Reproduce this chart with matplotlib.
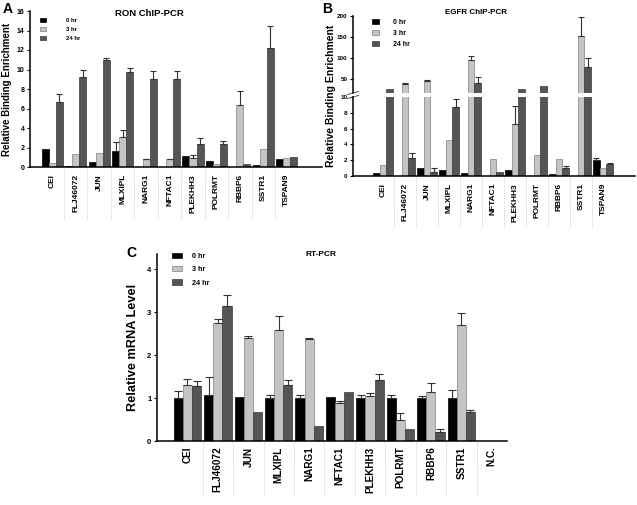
import numpy as np
import matplotlib
matplotlib.use("Agg")
import matplotlib.pyplot as plt
import matplotlib.transforms as mtransforms
from matplotlib.patches import Patch

plt.rcParams['font.family'] = ['Liberation Sans', 'DejaVu Sans']
plt.rcParams['font.weight'] = 'bold'
plt.rcParams['axes.labelweight'] = 'bold'

# ---- data ----
genes_ab = ['CEI', 'FLJ46072', 'JUN', 'MLXIPL', 'NARG1', 'NFTAC1',
            'PLEKHH3', 'POLRMT', 'RBBP6', 'SSTR1', 'TSPAN9']
genes_c = ['CEI', 'FLJ46072', 'JUN', 'MLXIPL', 'NARG1', 'NFTAC1',
           'PLEKHH3', 'POLRMT', 'RBBP6', 'SSTR1', 'N.C.']
times = ['0 hr', '3 hr', '24 hr']

# A: RON ChIP-PCR
ron_0 = [1.85, 0.15, 0.55, 1.65, 0.0, 0.0, 1.1, 0.6, 0.0, 0.2, 0.85]
ron_0_err = [0, 0, 0, 0.95, 0, 0, 0, 0, 0, 0, 0]
ron_3 = [0.4, 1.3, 1.45, 3.05, 0.8, 0.8, 0.95, 0.3, 6.4, 1.85, 0.95]
ron_3_err = [0, 0, 0, 0.7, 0.05, 0.05, 0.3, 0, 1.4, 0, 0]
ron_24 = [6.7, 9.25, 11.0, 9.75, 9.05, 9.05, 2.35, 2.4, 0.3, 12.2, 1.05]
ron_24_err = [0.75, 0.75, 0.15, 0.4, 0.75, 0.75, 0.65, 0.25, 0, 2.25, 0]

# B: EGFR ChIP-PCR
egfr_0 = [0.4, 0.0, 1.0, 0.8, 0.4, 0.05, 0.7, 0.0, 0.2, 0.0, 2.0]
egfr_0_err = [0, 0, 0, 0, 0, 0, 0, 0, 0, 0, 0.3]
egfr_3 = [1.4, 38, 46, 4.5, 95, 2.1, 6.6, 2.7, 2.2, 153, 1.0]
egfr_3_err = [0, 3, 2, 0, 10, 0, 2.2, 0, 0, 44, 0]
egfr_24 = [26, 2.3, 0.5, 8.7, 40, 0.5, 26, 34, 1.0, 78, 1.5]
egfr_24_err = [0, 0.55, 0.5, 1.1, 14, 0, 0, 0, 0.3, 22, 0.1]

# C: RT-PCR
mrna_0 = [1.0, 1.06, 1.02, 1.0, 1.0, 1.02, 1.0, 1.0, 1.0, 1.0, 0]
mrna_0_err = [0.17, 0.44, 0, 0.08, 0.06, 0, 0.08, 0.06, 0.05, 0.18, 0]
mrna_3 = [1.3, 2.75, 2.4, 2.58, 2.38, 0.88, 1.05, 0.5, 1.15, 2.7, 0]
mrna_3_err = [0.15, 0.08, 0.05, 0.32, 0.01, 0.05, 0.06, 0.16, 0.21, 0.28, 0]
mrna_24 = [1.28, 3.15, 0.68, 1.3, 0.35, 1.15, 1.42, 0.28, 0.22, 0.67, 0]
mrna_24_err = [0.12, 0.25, 0, 0.13, 0, 0, 0.14, 0, 0.05, 0.05, 0]

colors = ['#000000', '#c4c4c4', '#555555']
edges = ['#000000', '#808080', '#3a3a3a']

W, H = 637, 505
fig = plt.figure(figsize=(W / 100, H / 100), dpi=100)


def px_axes(left, right, top, bottom):
    return fig.add_axes([left / W, 1 - bottom / H, (right - left) / W, (bottom - top) / H])


def draw_groups(ax, series, errors, width=0.3, capsize=2.5):
    n = len(series[0])
    x = np.arange(n)
    for k, (vals, errs) in enumerate(zip(series, errors)):
        xs = x + (k - 1) * width
        ax.bar(xs, vals, width, color=colors[k], edgecolor=edges[k], linewidth=0.5, zorder=2)
        errs = np.asarray(errs, dtype=float)
        m = errs > 0
        ax.errorbar(xs[m], np.asarray(vals)[m], yerr=[np.zeros(m.sum()), errs[m]],
                    fmt='none', ecolor='#333333', elinewidth=0.8, capsize=capsize,
                    capthick=0.8, zorder=3)


def style(ax, labels, sep_px, ax_h_px, lab_size, tick_size, pad):
    ax.spines['top'].set_visible(False)
    ax.spines['right'].set_visible(False)
    for s in ('left', 'bottom'):
        ax.spines[s].set_linewidth(1.1)
    ax.set_xticks(np.arange(len(labels)))
    ax.set_xticklabels(labels, rotation=90, fontsize=lab_size, fontweight='bold')
    ax.tick_params(axis='x', length=0, pad=pad)
    ax.tick_params(axis='y', length=2.5, width=0.8, labelsize=tick_size, pad=1.5)
    trans = mtransforms.blended_transform_factory(ax.transData, ax.transAxes)
    for i in range(len(labels) - 1):
        ax.plot([i + 0.5, i + 0.5], [0, -sep_px / ax_h_px], transform=trans,
                clip_on=False, color='#c8c8c8', lw=0.6, ls=(0, (1, 1)))


def legend(ax, x, y, size, hl, htp, ls):
    handles = [Patch(facecolor=colors[k], edgecolor=edges[k], linewidth=0.5) for k in range(3)]
    ax.legend(handles, times, loc='upper left', bbox_to_anchor=(x, y), frameon=False,
              fontsize=size, handlelength=hl, handleheight=0.7, handletextpad=htp,
              labelspacing=ls, borderpad=0, borderaxespad=0)


# ---- Panel A ----
axA = px_axes(30, 322, 11, 167)
draw_groups(axA, [ron_0, ron_3, ron_24], [ron_0_err, ron_3_err, ron_24_err])
axA.set_xlim(-0.95, 11.5)
axA.set_ylim(0, 16)
axA.set_yticks(range(0, 17, 2))
style(axA, genes_ab, 51, 156, 6, 5, 5)
axA.set_ylabel('Relative Binding Enrichment', fontsize=7, labelpad=3)
axA.text(0.41, 0.985, 'RON ChIP-PCR', transform=axA.transAxes, ha='center', va='center', fontsize=6.8)
legend(axA, 0.034, 0.955, 4.3, 1.0, 3.4, 0.6)

# ---- Panel B (broken axis) ----
axBu = px_axes(353, 635, 16, 93)
axBl = px_axes(353, 635, 97, 176)
for ax in (axBu, axBl):
    draw_groups(ax, [egfr_0, egfr_3, egfr_24], [egfr_0_err, egfr_3_err, egfr_24_err])
    ax.set_xlim(-1.36, 11.45)
axBu.set_ylim(17, 200)
axBu.set_yticks([50, 100, 150, 200])
axBl.set_ylim(0, 10)
axBl.set_yticks(range(0, 11, 2))
style(axBl, genes_ab, 51, 79, 6, 4.5, 5)
axBu.spines['top'].set_visible(False)
axBu.spines['right'].set_visible(False)
axBu.spines['bottom'].set_visible(False)
axBu.spines['left'].set_linewidth(1.1)
axBu.set_xticks([])
axBu.tick_params(axis='y', length=2.5, width=0.8, labelsize=4.5, pad=1.5)
# break marks
for ax, yy in ((axBu, 0), (axBl, 1)):
    ax.plot([-0.02, 0.02], [yy - 0.02, yy + 0.02], transform=ax.transAxes,
            clip_on=False, color='#555555', lw=0.7)
fig.text(331 / W, 1 - 96 / H, 'Relative Binding Enrichment', rotation=90,
         ha='center', va='center', fontsize=7.5, fontweight='bold')
axBu.text(0.436, 1.04, 'EGFR ChIP-PCR', transform=axBu.transAxes, ha='center', va='center', fontsize=5.8)
legend(axBu, 0.067, 0.96, 5, 1.0, 2.0, 0.55)

# ---- Panel C ----
axC = px_axes(157, 507, 254, 441)
draw_groups(axC, [mrna_0, mrna_3, mrna_24], [mrna_0_err, mrna_3_err, mrna_24_err], capsize=3)
axC.set_xlim(-1.0, 10.5)
axC.set_ylim(0, 4.35)
axC.set_yticks(range(0, 5))
style(axC, genes_c, 54, 187, 7.2, 5.5, 4)
axC.set_ylabel('Relative mRNA Level', fontsize=9.2, labelpad=6)
axC.text(0.47, 1.0, 'RT-PCR', transform=axC.transAxes, ha='center', va='center', fontsize=6)
legend(axC, 0.043, 1.005, 5.2, 1.4, 1.4, 0.85)

# panel letters
fig.text(3 / W, 1 - 2 / H, 'A', fontsize=10, fontweight='bold', va='top')
fig.text(322 / W, 1 - 2 / H, 'B', fontsize=10, fontweight='bold', va='top')
fig.text(126 / W, 1 - 246 / H, 'C', fontsize=10, fontweight='bold', va='top')

fig.savefig('out.png', dpi=100)
